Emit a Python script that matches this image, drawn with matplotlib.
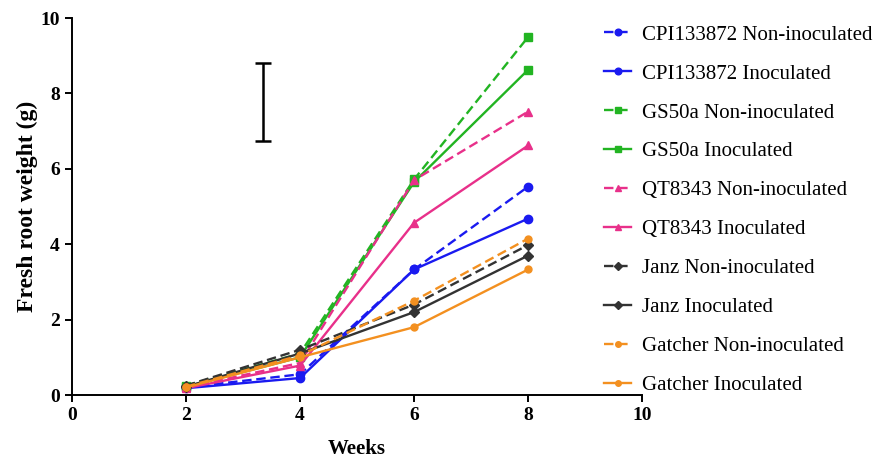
import matplotlib.pyplot as plt
import numpy as np

weeks = [2, 4, 6, 8]

labels = [
    "CPI133872 Non-inoculated", "CPI133872 Inoculated",
    "GS50a Non-inoculated", "GS50a Inoculated",
    "QT8343 Non-inoculated", "QT8343 Inoculated",
    "Janz Non-inoculated", "Janz Inoculated",
    "Gatcher Non-inoculated", "Gatcher Inoculated",
]
values = [
    [0.20, 0.55, 3.33, 5.53],
    [0.18, 0.45, 3.33, 4.68],
    [0.25, 1.10, 5.72, 9.50],
    [0.22, 1.00, 5.65, 8.63],
    [0.20, 0.85, 5.70, 7.52],
    [0.18, 0.78, 4.57, 6.62],
    [0.25, 1.20, 2.40, 3.98],
    [0.22, 1.10, 2.20, 3.70],
    [0.22, 1.05, 2.50, 4.15],
    [0.20, 1.00, 1.80, 3.33],
]
colors = ["#1a1af0", "#1a1af0", "#22b422", "#22b422", "#e8308a", "#e8308a",
          "#333333", "#333333", "#f39020", "#f39020"]
markers = ["o", "o", "s", "s", "^", "^", "D", "D", "o", "o"]
dashed = [True, False] * 5

# pooled error bar drawn in the empty area
err_x = 3.35
err_lo, err_hi = 6.75, 8.82

plt.rcParams["font.family"] = ["Liberation Serif", "DejaVu Serif"]

fig = plt.figure(figsize=(8.86, 4.62), dpi=100)
ax = fig.add_axes([0.081, 0.145, 0.644, 0.816])

for lab, vals, c, m, d in zip(labels, values, colors, markers, dashed):
    ms = 5 if m == "D" else 6
    if lab.startswith("Gatcher"):
        ms = 5
    ax.plot(weeks, vals, color=c, marker=m, markersize=ms, linewidth=1.7,
            linestyle=(0, (4, 2)) if d else "-", label=lab)

ax.errorbar([err_x], [(err_lo + err_hi) / 2], yerr=[(err_hi - err_lo) / 2],
            color="black", capsize=6, linewidth=1.8, capthick=1.8)

ax.set_xlim(0, 10)
ax.set_ylim(0, 10)
ax.set_xticks([0, 2, 4, 6, 8, 10])
ax.set_yticks([0, 2, 4, 6, 8, 10])
ax.spines["top"].set_visible(False)
ax.spines["right"].set_visible(False)
ax.spines["left"].set_linewidth(1.4)
ax.spines["bottom"].set_linewidth(1.4)
ax.tick_params(direction="out", length=5, width=1.4, labelsize=14)
for t in ax.get_xticklabels() + ax.get_yticklabels():
    t.set_fontweight("bold")
ax.set_xlabel("Weeks", fontsize=15, fontweight="bold", labelpad=11)
ax.set_ylabel("Fresh root weight (g)", fontsize=17, fontweight="bold", labelpad=2)

handles, labs = ax.get_legend_handles_labels()
leg = fig.legend(handles, labs, loc="upper left",
                 bbox_to_anchor=(604 / 886, 1 - 25 / 462), frameon=False,
                 fontsize=15, handlelength=1.3, handletextpad=0.5,
                 labelspacing=0.93, borderpad=0, borderaxespad=0, markerscale=0.8)

fig.savefig("out.png", dpi=100)
